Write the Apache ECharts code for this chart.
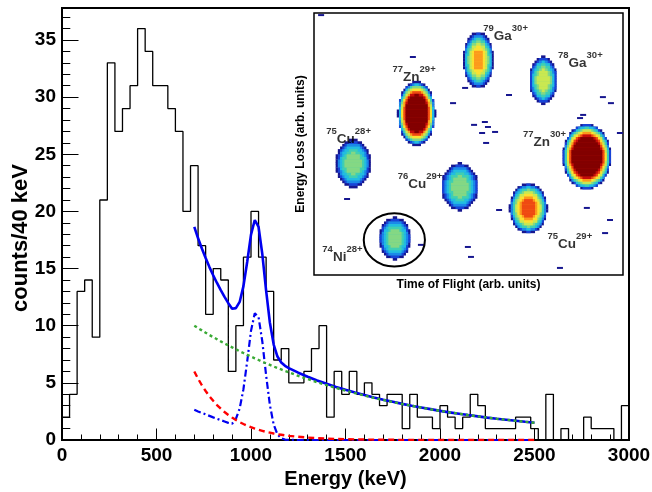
<!DOCTYPE html>
<html><head><meta charset="utf-8">
<script src="https://cdn.jsdelivr.net/npm/echarts@6/dist/echarts.min.js"></script>
<style>html,body{margin:0;padding:0;background:#fff}#c{width:652px;height:492px}</style>
</head><body><div id="c"></div>
<script>
// ---- main spectrum: counts per 40 keV bin, 0..3000 keV ----
const binWidth = 40;
const counts = [2,4,13,14,9,21,33,27,29,31,36,34,31,31,29,27,20,24,17,11,
                15,14,6,10,16,20,16,13,7,8,5,5,6,8,10,2,6,4,6,4,
                5,4,3,4,4,1,4,2,2,1,3,2,1,2,4,3,1,1,1,1,
                2,2,1,0,4,0,1,0,0,2,1,1,1,0,3];

// ---- fit curves ----
const fitEnergy = [700,720,740,760,780,800,820,840,860,880,900,920,940,960,980,1000,1020,1040,1060,1080,1100,1120,1140,1160,1180,1200,
                   1250,1300,1350,1400,1450,1500,1550,1600,1650,1700,1750,1800,1850,1900,1950,2000,2050,2100,2150,2200,2250,2300,2350,2400,2450,2500];
const totalFit = [18.65,17.65,16.75,15.92,15.13,14.41,13.74,13.11,12.52,11.97,11.49,11.54,12.08,13.46,15.60,17.97,19.25,18.64,16.25,13.07,10.26,8.35,7.30,6.78,6.49,6.29,
                  5.89,5.54,5.21,4.92,4.64,4.39,4.15,3.93,3.72,3.52,3.34,3.16,3.00,2.85,2.70,2.55,2.42,2.30,2.18,2.07,1.96,1.86,1.77,1.68,1.59,1.51];
const bkgGreen = [10.00,9.79,9.59,9.39,9.19,9.00,8.82,8.63,8.45,8.28,8.11,7.94,7.77,7.61,7.45,7.30,7.15,7.00,6.85,6.71,6.57,6.43,6.30,6.17,6.04,5.92,
                  5.61,5.33,5.05,4.80,4.55,4.32,4.10,3.89,3.69,3.50,3.32,3.15,2.99,2.84,2.69,2.55,2.42,2.30,2.18,2.07,1.96,1.86,1.77,1.68,1.59,1.51];
const bkgRed = [6.00,5.36,4.79,4.29,3.83,3.43,3.06,2.74,2.45,2.19,1.96,1.75,1.56,1.40,1.25,1.12,1.00,0.89,0.80,0.71,0.64,0.57,0.51,0.46,0.41,0.36,
                0.28,0.21,0.16,0.12,0.09,0.07,0.05,0.04,0.03,0.02,0.02,0.01,0.01,0.01,0.01,0,0,0,0,0,0,0,0,0,0,0];
const peakFit = [2.65,2.50,2.37,2.24,2.11,1.98,1.86,1.74,1.62,1.50,1.42,1.85,2.75,4.45,6.90,9.55,11.10,10.75,8.60,5.65,3.05,1.35,0.49,0.15,0.04,0.01,
                 0,0,0,0,0,0,0,0,0,0,0,0,0,0,0,0,0,0,0,0,0,0,0,0,0,0];

// ---- inset: particle identification (arb. units 0..100) ----
const ionMass   = [79, 78, 77, 75, 77, 76, 75, 74];
const ionElem   = ['Ga','Ga','Zn','Cu','Zn','Cu','Cu','Ni'];
const ionCharge = ['30+','30+','29+','28+','30+','29+','29+','28+'];
const ionTof    = [53.2, 74.2, 33.2, 12.7, 88.3, 47.2, 69.4, 26.2];
const ionDE     = [82.1, 74.4, 61.7, 42.6, 45.2, 33.7, 25.5, 14.0];
const ionHalfTof= [4.9, 4.5, 6.1, 5.7, 7.8, 6.0, 6.1, 5.2];
const ionHalfDE = [10.7, 9.0, 12.2, 9.2, 12.4, 9.0, 9.5, 8.0];
const ionIntensity = [8.2, 6.5, 16, 5.3, 17, 5.4, 9.8, 5.3];
const strayTof = [2.3,51.8,55.3,56.3,54.4,55.7,58.6,32.0,48.9,45.0,63.1,86.1,87.1,93.5,96.1,99.0,94.2,95.8,88.3,49.8,50.8,79.6,10.7,34.6,59.9];
const strayDE  = [99.2,57.3,58.4,56.5,54.2,50.4,54.6,83.2,71.4,65.6,68.7,59.9,61.1,67.9,65.6,54.2,16.0,21.0,25.6,10.7,6.9,2.7,29.0,11.5,24.8];

// label anchors (arb. units) and selection circle
const labelTof = [62.0, 86.2, 32.4, 11.2, 74.6, 34.3, 82.8, 9.2];
const labelDE  = [92.4, 82.1, 76.5, 53.1, 51.9, 35.9, 13.0, 8.0];
const selCircle = [[26.0, 13.4, 9.9, 10.2]];

const FONT = 'Liberation Sans, Arial, Helvetica, sans-serif';
const palette = ['#16168f','#1744d8','#1b8ae8','#22bde0','#3fcfb2','#84d884','#c9e851','#fde030','#fc9a1c','#ef4a12','#c50c0a','#820000'];

const histPts = [[0,0]];
counts.forEach((c,i)=>{ histPts.push([i*binWidth,c]); histPts.push([(i+1)*binWidth,c]); });
histPts.push([counts.length*binWidth,0]);
const pair = arr => fitEnergy.map((e,i)=>[e,arr[i]]);

const blobData = ionTof.map((x,i)=>[x, ionDE[i], ionHalfTof[i], ionHalfDE[i], ionIntensity[i]]);
const strayData = strayTof.map((x,i)=>[x, strayDE[i]]);
const labelData = labelTof.map((x,i)=>({value:[x, labelDE[i]], name:i}));

const ROW = 2.6; // bin-row height of the 2D histogram look (px)

const chart = echarts.init(document.getElementById('c'), null, {renderer:'canvas'});
chart.setOption({
  animation:false,
  backgroundColor:'#fff',
  graphic:[
    {type:'text', x:21, y:238, rotation:Math.PI/2, z:20,
     style:{text:'counts/40 keV', fontFamily:FONT, fontWeight:'bold', fontSize:22, fill:'#000',
            align:'center', verticalAlign:'middle'}}
  ],
  grid:[
    {left:62, top:8, width:567, height:432, show:true, borderColor:'#000', borderWidth:2, backgroundColor:'transparent', outerBoundsMode:'none', containLabel:false},
    {left:314, top:13, width:309, height:262, show:true, borderColor:'#000', borderWidth:1.5, backgroundColor:'#fff', outerBoundsMode:'none', containLabel:false}
  ],
  xAxis:[
    {type:'value', gridIndex:0, min:0, max:3000, interval:500,
     axisLine:{lineStyle:{color:'#000', width:2}},
     axisTick:{inside:true, length:11.5, lineStyle:{color:'#000', width:1}},
     minorTick:{show:true, splitNumber:5, length:5.5, lineStyle:{color:'#000', width:1}},
     splitLine:{show:false},
     axisLabel:{fontFamily:FONT, fontWeight:'bold', fontSize:19, color:'#000', margin:6, formatter:v=>String(v)},
     name:'Energy (keV)', nameLocation:'middle', nameGap:7,
     nameTextStyle:{fontFamily:FONT, fontWeight:'bold', fontSize:20, color:'#000'}},
    {type:'value', gridIndex:1, min:0, max:100,
     axisLine:{show:false}, axisTick:{show:false}, axisLabel:{show:false}, splitLine:{show:false},
     name:'Time of Flight (arb. units)', nameLocation:'middle', nameGap:4,
     nameTextStyle:{fontFamily:FONT, fontWeight:'bold', fontSize:12, color:'#000', verticalAlign:'top'}}
  ],
  yAxis:[
    {type:'value', gridIndex:0, min:0, max:37.8, interval:5,
     axisLine:{lineStyle:{color:'#000', width:2}},
     axisTick:{inside:true, length:16.5, lineStyle:{color:'#000', width:1}},
     splitLine:{show:false},
     axisLabel:{fontFamily:FONT, fontWeight:'bold', fontSize:19, color:'#000', margin:6,
                formatter:v=> (Math.abs(v%5)<1e-9 ? String(v) : '')}},
    {type:'value', gridIndex:0, min:0, max:37.8, interval:1, position:'left',
     axisLine:{show:false}, axisLabel:{show:false}, splitLine:{show:false},
     axisTick:{inside:true, length:8.3, lineStyle:{color:'#000', width:1}}},
    {type:'value', gridIndex:1, min:0, max:100,
     axisLine:{show:false}, axisTick:{show:false}, axisLabel:{show:false}, splitLine:{show:false},
     name:'Energy Loss (arb. units)', nameLocation:'middle', nameGap:7,
     nameTextStyle:{fontFamily:FONT, fontWeight:'bold', fontSize:12, color:'#000'}}
  ],
  series:[
    {type:'line', xAxisIndex:0, yAxisIndex:0, data:histPts, symbol:'none',
     lineStyle:{color:'#000', width:1.3}, z:2},
    {type:'line', xAxisIndex:0, yAxisIndex:0, data:pair(totalFit), symbol:'none', smooth:false,
     lineStyle:{color:'#0000f0', width:2.6}, z:3},
    {type:'line', xAxisIndex:0, yAxisIndex:0, data:pair(peakFit), symbol:'none',
     lineStyle:{color:'#0000f0', width:2.2, type:[7,3,2,3]}, z:4},
    {type:'line', xAxisIndex:0, yAxisIndex:0, data:pair(bkgGreen), symbol:'none',
     lineStyle:{color:'#3aaa35', width:2.4, type:[3,3]}, z:5},
    {type:'line', xAxisIndex:0, yAxisIndex:0, data:pair(bkgRed), symbol:'none',
     lineStyle:{color:'#ff0000', width:2.4, type:[6,4]}, z:6},
    {type:'custom', xAxisIndex:1, yAxisIndex:2, data:strayData, z:10,
     renderItem:(params, api)=>{
       const p = api.coord([api.value(0), api.value(1)]);
       return {type:'rect', shape:{x:p[0]-3, y:p[1]-1, width:6, height:2}, style:{fill:palette[0]}};
     }},
    {type:'custom', xAxisIndex:1, yAxisIndex:2, data:blobData, z:11,
     renderItem:(params, api)=>{
       const c = api.coord([api.value(0), api.value(1)]);
       const s = api.size([api.value(2), api.value(3)]);
       const peak = api.value(4);
       const children = [];
       const top = Math.min(Math.floor(peak), palette.length-1);
       for (let k=0;k<=top;k++){
         const f = Math.sqrt(1 - k/(peak+1));
         const rx = s[0]*f, ry = s[1]*f;
         const n = Math.floor(ry/ROW);
         for (let j=-n;j<=n;j++){
           const dy = j*ROW;
           const t = 1 - (dy*dy)/(ry*ry);
           if (t <= 0) continue;
           const w = rx*Math.sqrt(t);
           const wq = Math.max(1.5, Math.round(w/2.2)*2.2);
           children.push({type:'rect', shape:{x:c[0]-wq, y:c[1]+dy-ROW/2, width:2*wq, height:ROW+0.3}, style:{fill:palette[k]}});
         }
       }
       return {type:'group', children};
     }},
    {type:'custom', xAxisIndex:1, yAxisIndex:2, data:selCircle, z:12,
     renderItem:(params, api)=>{
       const c = api.coord([api.value(0), api.value(1)]);
       const s = api.size([api.value(2), api.value(3)]);
       return {type:'ellipse', shape:{cx:c[0], cy:c[1], rx:s[0], ry:s[1]}, style:{fill:null, stroke:'#000', lineWidth:2}};
     }},
    {type:'scatter', xAxisIndex:1, yAxisIndex:2, data:labelData, symbolSize:1, z:13,
     itemStyle:{color:'rgba(0,0,0,0)'},
     label:{show:true, position:'inside',
       formatter:p=> '{s|'+ionMass[p.data.name]+'}{m|'+ionElem[p.data.name]+'}{s|'+ionCharge[p.data.name]+'}',
       rich:{
         s:{fontFamily:FONT, fontWeight:'bold', fontSize:9.5, color:'#000', lineHeight:8, verticalAlign:'top'},
         m:{fontFamily:FONT, fontWeight:'bold', fontSize:13.5, color:'#000', lineHeight:20, verticalAlign:'bottom'}
       }}}
  ]
});
</script>
</body></html>
